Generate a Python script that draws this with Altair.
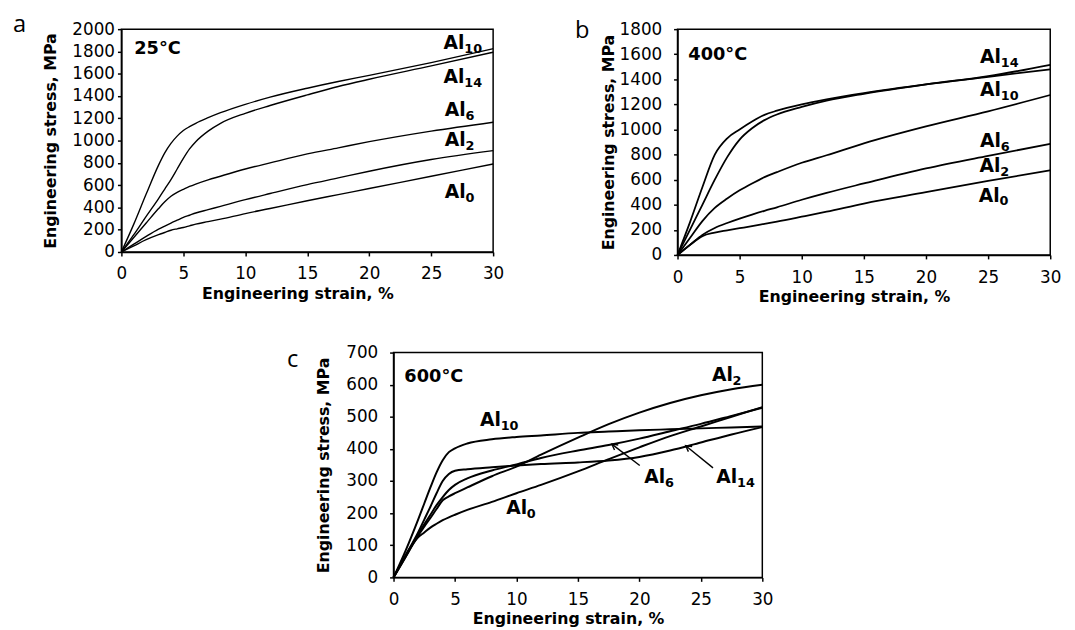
import altair as alt
import pandas as pd

# ---------------- Panel a : 25 °C ----------------
a_strain = [0, 1, 2, 3, 3.5, 4, 4.5, 5, 5.5, 6, 7, 8, 10, 12, 15, 17.5, 20, 25, 30]
a_al0 = [0, 55, 110, 155, 175, 195, 208, 220, 235, 250, 272, 295, 345, 390, 460, 515, 570, 680, 790]
a_al2 = [0, 70, 140, 205, 233, 260, 285, 310, 330, 350, 380, 410, 470, 525, 605, 665, 725, 830, 910]
a_al6 = [0, 130, 260, 390, 450, 500, 535, 562, 588, 610, 648, 680, 745, 800, 880, 935, 990, 1085, 1165]
a_al10 = [0, 250, 520, 780, 890, 975, 1040, 1090, 1125, 1155, 1205, 1250, 1325, 1390, 1470, 1530, 1585, 1700, 1825]
a_al14 = [0, 155, 320, 480, 565, 650, 745, 840, 925, 990, 1085, 1155, 1245, 1315, 1410, 1485, 1550, 1670, 1793]
a_lab_sub = ["10", "14", "6", "2", "0"]
a_lab_x = [26.0, 26.0, 26.1, 26.1, 26.1]
a_lab_y = [1876, 1572, 1276, 1004, 538]
a_temp = ("25°C", 1.04, 1817)

# ---------------- Panel b : 400 °C ----------------
b_strain = [0, 1, 2, 3, 4, 5, 6, 7, 8, 10, 12, 15, 20, 25, 30]
b_al0 = [0, 80, 150, 178, 196, 213, 230, 248, 266, 305, 345, 410, 500, 590, 675]
b_al2 = [0, 80, 160, 215, 255, 290, 322, 352, 380, 440, 495, 570, 690, 790, 885]
b_al6 = [0, 135, 270, 375, 450, 515, 570, 620, 660, 735, 795, 890, 1025, 1145, 1275]
b_al10 = [0, 260, 540, 800, 930, 1000, 1064, 1117, 1150, 1200, 1240, 1290, 1360, 1420, 1480]
b_al14 = [0, 200, 400, 600, 780, 920, 1010, 1075, 1120, 1180, 1230, 1285, 1360, 1425, 1516]
b_lab_sub = ["14", "10", "6", "2", "0"]
b_lab_x = [24.35, 24.35, 24.35, 24.3, 24.25]
b_lab_y = [1577, 1314, 907, 709, 473]
b_temp = ("400°C", 0.87, 1590)

# ---------------- Panel c : 600 °C ----------------
c_strain = [0, 1, 2, 2.5, 3, 3.5, 4, 4.5, 5, 6, 8, 10, 12, 15, 17.5, 20, 22.5, 25, 27.5, 30]
c_al0 = [0, 70, 125, 140, 155, 167, 178, 187, 195, 210, 235, 262, 288, 330, 368, 405, 440, 470, 500, 530]
c_al2 = [0, 65, 130, 158, 185, 213, 240, 252, 262, 280, 315, 345, 382, 435, 477, 513, 543, 567, 586, 600]
c_al6 = [0, 65, 135, 165, 195, 225, 250, 272, 288, 308, 333, 352, 372, 395, 412, 432, 455, 478, 503, 528]
c_al10 = [0, 85, 180, 230, 280, 327, 365, 390, 402, 417, 430, 437, 442, 450, 454, 458, 461, 464, 467, 470]
c_al14 = [0, 70, 140, 180, 220, 262, 300, 322, 332, 337, 343, 348, 353, 358, 364, 375, 395, 420, 445, 468]
c_lab_sub = ["2", "10", "6", "14", "0"]
c_lab_x = [25.9, 7.03, 20.4, 26.26, 9.16]
c_lab_y = [630, 489, 313, 313, 215]
c_temp = ("600°C", 0.88, 625)
c_arrow_tail_x = [20.03, 25.99]
c_arrow_tail_y = [348.5, 341]
c_arrow_head_x = [17.76, 23.77]
c_arrow_head_y = [415, 410]

ALLOYS = ["Al0", "Al2", "Al6", "Al10", "Al14"]
FONT = "DejaVu Sans"


def curves_df(strain, series):
    rows = []
    for name, vals in zip(ALLOYS, series):
        for s, v in zip(strain, vals):
            rows.append({"alloy": name, "x": s, "y": v})
    return pd.DataFrame(rows)


def labels_df(xs, ys, subs):
    return pd.DataFrame({"x": xs, "y": ys, "main": ["Al"] * len(xs), "sub": subs})


AXIS_STYLE = dict(
    labelFont=FONT, labelFontSize=17, labelColor="black",
    titleFont=FONT, titleFontSize=16, titleFontWeight="bold", titleColor="black",
    domainColor="black", tickColor="black", domainWidth=1.5, tickWidth=1.5,
    grid=False, format="d", labelOverlap=False, tickSize=4,
)


def panel(curves, labels, temp, ymax, ystep, w, h, lw, ypad, xpad, ytitle_x, xtitle_y,
          letter, lx, ly, arrows=None):
    xs = alt.Scale(domain=[0, 30], nice=False, zero=False)
    ys = alt.Scale(domain=[0, ymax], nice=False)
    xax = alt.Axis(values=list(range(0, 31, 5)), title="Engineering strain, %",
                   labelFlush=False, labelPadding=xpad,
                   titleX=w / 2 - 10, titleY=xtitle_y, titleAlign="center",
                   titleBaseline="alphabetic", **AXIS_STYLE)
    yax = alt.Axis(values=list(range(0, ymax + 1, ystep)), title="Engineering stress, MPa",
                   labelPadding=ypad,
                   titleX=ytitle_x, titleY=h / 2, titleAngle=270, titleAlign="center",
                   titleBaseline="alphabetic", **AXIS_STYLE)
    X = alt.X("x:Q", scale=xs, axis=xax)
    Y = alt.Y("y:Q", scale=ys, axis=yax)

    lines = alt.Chart(curves).mark_line(
        color="black", strokeWidth=lw, interpolate="monotone"
    ).encode(x=X, y=Y, detail="alloy:N")
    main = alt.Chart(labels).mark_text(
        font=FONT, fontWeight="bold", fontSize=19, align="left", baseline="middle", color="black"
    ).encode(x=X, y=Y, text="main:N")
    sub = alt.Chart(labels).mark_text(
        font=FONT, fontWeight="bold", fontSize=13, align="left", baseline="middle",
        color="black", dx=21, dy=6
    ).encode(x=X, y=Y, text="sub:N")
    tdf = pd.DataFrame({"t": [temp[0]], "x": [temp[1]], "y": [temp[2]]})
    ttext = alt.Chart(tdf).mark_text(
        font=FONT, fontWeight="bold", fontSize=18, align="left", baseline="middle", color="black"
    ).encode(x=X, y=Y, text="t:N")
    let = alt.Chart(pd.DataFrame({"t": [letter]})).mark_text(
        font="Open Sans", fontSize=24, align="left", baseline="alphabetic", color="black"
    ).encode(x=alt.value(lx), y=alt.value(ly), text="t:N")
    layers = [lines, main, sub, ttext, let]
    if arrows is not None:
        tx, ty, hx, hy = arrows
        adf = pd.DataFrame({"x": tx, "y": ty, "x2": hx, "y2": hy})
        hdf = pd.DataFrame({"x": hx, "y": hy})
        rule = alt.Chart(adf).mark_rule(color="black", strokeWidth=1.4).encode(
            x=X, y=Y, x2="x2:Q", y2="y2:Q")
        head = alt.Chart(hdf).mark_point(
            shape="M-0.6,1.1L0,0L0.6,1.1", filled=False, size=110, strokeWidth=1.4,
            color="black", opacity=1, angle=307
        ).encode(x=X, y=Y)
        layers += [rule, head]
    return alt.layer(*layers).properties(width=w, height=h)


pa = panel(curves_df(a_strain, [a_al0, a_al2, a_al6, a_al10, a_al14]),
           labels_df(a_lab_x, a_lab_y, a_lab_sub), a_temp, 2000, 200,
           377, 226, 1.4, 3, 10, -67, 47, "a", -110, 3)
pb = panel(curves_df(b_strain, [b_al0, b_al2, b_al6, b_al10, b_al14]),
           labels_df(b_lab_x, b_lab_y, b_lab_sub), b_temp, 1800, 200,
           378, 229, 1.8, 12, 11, -65, 47, "b", -104, 9)
pc = panel(curves_df(c_strain, [c_al0, c_al2, c_al6, c_al10, c_al14]),
           labels_df(c_lab_x, c_lab_y, c_lab_sub), c_temp, 700, 100,
           374, 228, 2.0, 12, 11, -66, 47, "c", -108, 15,
           arrows=(c_arrow_tail_x, c_arrow_tail_y, c_arrow_head_x, c_arrow_head_y))

spacer = alt.Chart(pd.DataFrame({"x": [0]})).mark_point(opacity=0).encode(
    x=alt.X("x:Q", axis=None), y=alt.Y("x:Q", axis=None)
).properties(width=176, height=1, view=alt.ViewBackground(stroke="transparent"))

top = alt.hconcat(pa, pb, spacing=187, bounds="flush")
bottom = alt.hconcat(spacer, pc, spacing=100, bounds="flush")

chart = alt.vconcat(
    top, bottom, spacing=38,
    padding={"left": 4, "top": 0, "right": 5, "bottom": 5},
).properties(background="white").configure_view(stroke="black", strokeWidth=1.5)

chart.save("out.html", embed_options={"renderer": "svg", "actions": False})
